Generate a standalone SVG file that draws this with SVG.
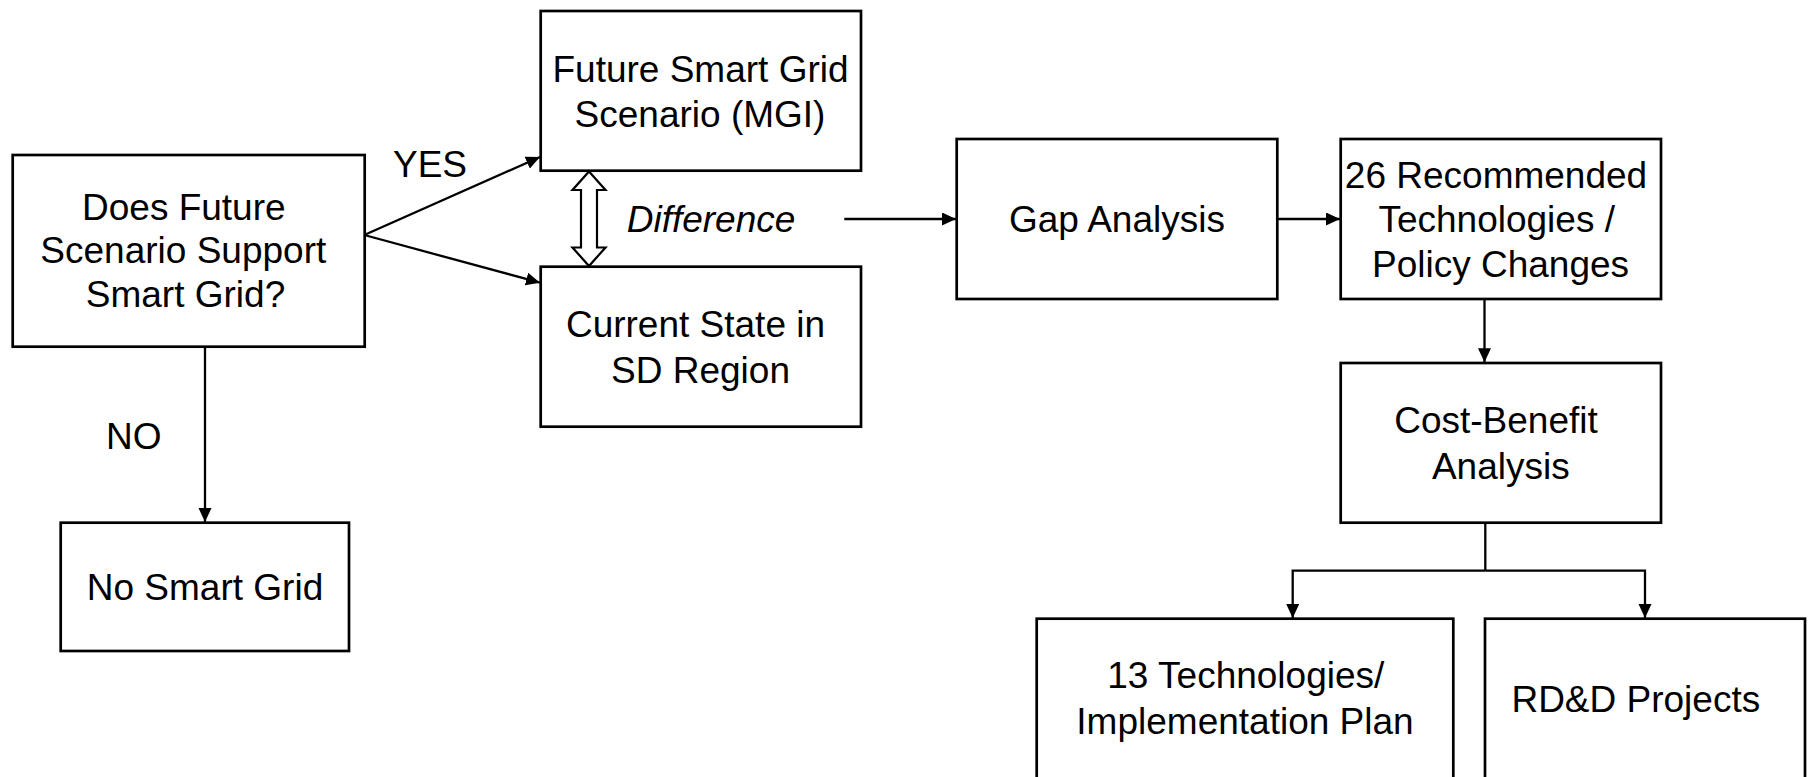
<svg xmlns="http://www.w3.org/2000/svg" width="1808" height="777" viewBox="0 0 1808 777">
<style>
.box{fill:#fff;stroke:#000;stroke-width:2.7}
.t{font-family:"Liberation Sans",Arial,sans-serif;font-size:37px;fill:#000;text-anchor:middle}
.lbl{font-family:"Liberation Sans",Arial,sans-serif;font-size:37px;fill:#000}
.c{fill:none;stroke:#000;stroke-width:2.3}
</style>
<defs>
<marker id="ah" markerUnits="userSpaceOnUse" markerWidth="15" markerHeight="14" refX="14" refY="6.5" orient="auto">
<path d="M0,0 L14,6.5 L0,13 z" fill="#000"/>
</marker>
</defs>
<rect width="1808" height="777" fill="#fff"/>
<g id="connectors">
<line class="c" x1="364.3" y1="235" x2="540" y2="157" marker-end="url(#ah)"/>
<line class="c" x1="364.3" y1="235" x2="540" y2="282.7" marker-end="url(#ah)"/>
<line class="c" x1="205" y1="346.7" x2="205" y2="522" marker-end="url(#ah)"/>
<line class="c" x1="844.3" y1="219" x2="956" y2="219" marker-end="url(#ah)"/>
<line class="c" x1="1277.3" y1="219" x2="1340" y2="219" marker-end="url(#ah)"/>
<line class="c" x1="1484.5" y1="299" x2="1484.5" y2="362.3" marker-end="url(#ah)"/>
<polyline class="c" points="1485.3,522.7 1485.3,570.7"/>
<polyline class="c" points="1485.3,570.7 1292.7,570.7 1292.7,618" marker-end="url(#ah)"/>
<polyline class="c" points="1485.3,570.7 1645,570.7 1645,618" marker-end="url(#ah)"/>
<polygon points="589,171.5 605.5,190 597,190 597,247.5 605.5,247.5 589,266 572.5,247.5 581,247.5 581,190 572.5,190" fill="#fff" stroke="#000" stroke-width="2.2" stroke-linejoin="miter"/>
</g>
<g id="labels">
<text class="lbl" x="393" y="176.7">YES</text>
<text class="lbl" x="106" y="448.7">NO</text>
<text class="lbl" x="626.7" y="231.7" font-style="italic">Difference</text>
</g>
<g id="decision">
<rect class="box" x="12.7" y="155" width="352" height="191.7"/>
<text class="t" x="183.8" y="220">Does Future</text>
<text class="t" x="183.3" y="263.3">Scenario Support</text>
<text class="t" x="185.5" y="306.7">Smart Grid?</text>
</g>
<g id="future">
<rect class="box" x="540.7" y="11" width="320.3" height="159.7"/>
<text class="t" x="700.5" y="81.7">Future Smart Grid</text>
<text class="t" x="700" y="127">Scenario (MGI)</text>
</g>
<g id="current">
<rect class="box" x="540.7" y="266.7" width="320.3" height="160"/>
<text class="t" x="695.5" y="337">Current State in</text>
<text class="t" x="700.5" y="382.7">SD Region</text>
</g>
<g id="nosmart">
<rect class="box" x="60.7" y="522.7" width="288.3" height="128.3"/>
<text class="t" x="205" y="600">No Smart Grid</text>
</g>
<g id="gap">
<rect class="box" x="956.7" y="139" width="320.6" height="160"/>
<text class="t" x="1117" y="231.7">Gap Analysis</text>
</g>
<g id="recommended">
<rect class="box" x="1340.7" y="139" width="320.3" height="160"/>
<text class="t" x="1496" y="187.7">26 Recommended</text>
<text class="t" x="1496.7" y="232.3">Technologies /</text>
<text class="t" x="1500.5" y="276.7">Policy Changes</text>
</g>
<g id="costbenefit">
<rect class="box" x="1340.7" y="363" width="320.3" height="159.7"/>
<text class="t" x="1496" y="433.3">Cost-Benefit</text>
<text class="t" x="1500.8" y="479">Analysis</text>
</g>
<g id="tech13">
<rect class="box" x="1036.7" y="618.7" width="416.6" height="160"/>
<text class="t" x="1245.8" y="688.3">13 Technologies/</text>
<text class="t" x="1245" y="734.3">Implementation Plan</text>
</g>
<g id="rdd">
<rect class="box" x="1485" y="618.7" width="320" height="160"/>
<text class="t" x="1635.8" y="712.3">RD&amp;D Projects</text>
</g>
</svg>
